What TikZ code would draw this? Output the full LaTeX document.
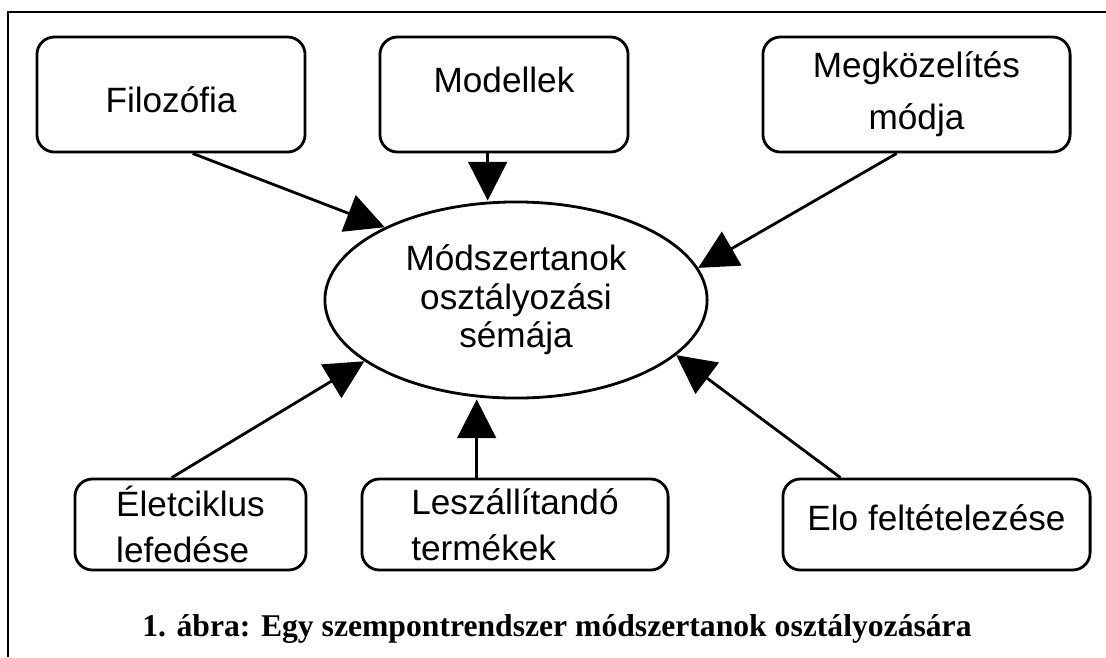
\documentclass[tikz,border=0pt]{standalone}
\usepackage{fontspec}
\setmainfont{Liberation Sans}
\newfontfamily\captionserif{Liberation Serif}
\usepackage{tikz}
\usetikzlibrary{positioning,calc,arrows.meta,shapes.geometric}

\begin{document}
\begin{tikzpicture}[x=0.01cm,y=-0.01cm]
	\tikzset{
		crit/.style={
			draw, rounded corners=5pt, line width=0.8pt,
			inner sep=0pt, font=\fontsize{10}{13}\selectfont
		},
		schema/.style={
			ellipse, draw, line width=0.8pt,
			minimum width=3.82cm, minimum height=1.96cm,
			inner sep=0pt, align=center,
			font=\fontsize{10}{10.9}\selectfont
		},
		infl/.style={
			-{Triangle[length=11pt,width=11pt]}, line width=0.8pt
		},
		keret/.style={line width=0.8pt}
	}
	\useasboundingbox (0,0) rectangle (1106,657);
	
	% ======= keret =======
	\draw[keret] (8,657) -- (8,12) -- (1106,12);
	
	% ======= középső ellipszis =======
	\node[schema] (ms) at (516,300) {Módszertanok\\osztályozási\\sémája};
	
	% ======= felső sor =======
	\node[crit, minimum width=2.68cm, minimum height=1.15cm,
		text height=10pt, text depth=0pt] (fil) at (171,94.5) {Filozófia};
	\node[crit, minimum width=2.48cm, minimum height=1.15cm,
		text height=7.5pt, text depth=8.5pt] (mod) at (504,94.5) {Modellek};
	\node[crit, minimum width=3.07cm, minimum height=1.15cm, align=center,
		font=\fontsize{10}{14.7}\selectfont] (megk) at (916.5,94.5) {Megközelítés\\módja};
	
	% ======= alsó sor =======
	\node[crit, minimum width=2.31cm, minimum height=0.91cm, align=left] (elet) at (190.5,524.5) {Életciklus\\lefedése};
	\node[crit, minimum width=3.06cm, minimum height=0.91cm, align=left] (lesz) at (515,524.5) {Leszállítandó\\termékek};
	\node[crit, minimum width=3.07cm, minimum height=0.91cm,
		text height=7.5pt, text depth=4pt] (elo) at (936.5,524.5) {Elo feltételezése};
	
	% ======= nyilak az ellipszishez =======
	\coordinate (m0) at ($(mod.south west)!0.435!(mod.south east)$);
	\coordinate (l0) at ($(lesz.north west)!0.376!(lesz.north east)$);
	
	\draw[infl] ($(fil.south west)!0.58!(fil.south east)$) -- (ms.151.5);
	\draw[infl] (m0) -- (m0 |- ms.north);
	\draw[infl] ($(megk.south west)!0.436!(megk.south east)$) -- (ms.10);
	\draw[infl] ($(elet.north west)!0.42!(elet.north east)$) -- (ms.202);
	\draw[infl] (l0) -- (l0 |- ms.south);
	\draw[infl] ($(elo.north west)!0.19!(elo.north east)$) -- (ms.341);
	
	% ======= ábra felirat =======
	\node[font=\captionserif\bfseries\fontsize{9}{11}\selectfont, anchor=base] (cap) at (557,636)
		{1. ábra: Egy szempontrendszer módszertanok osztályozására};
	
\end{tikzpicture}
\end{document}
